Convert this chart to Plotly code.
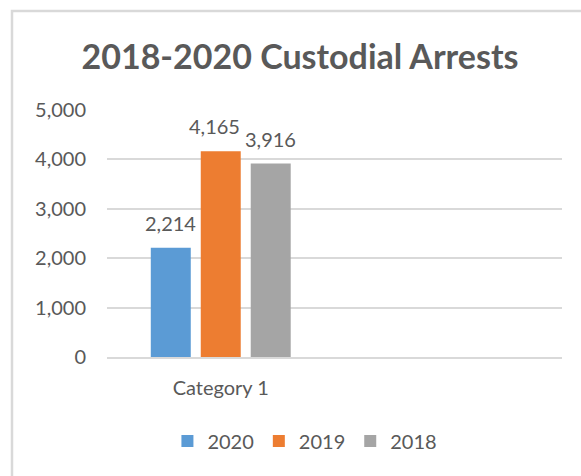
import plotly.graph_objects as go

categories = ["Category 1", " "]
series_names = ["2020", "2019", "2018"]
values_2020 = [2214, None]
values_2019 = [4165, None]
values_2018 = [3916, None]
series_values = [values_2020, values_2019, values_2018]
colors = ["#5B9BD5", "#ED7D31", "#A5A5A5"]
y_ticks = [0, 1000, 2000, 3000, 4000, 5000]
y_ticklabels = ["0", "1,000", "2,000", "3,000", "4,000", "5,000"]

FONT = "Lato"
TXT = "#595959"
FS = 20

fig = go.Figure()
for name, vals, col in zip(series_names, series_values, colors):
    fig.add_trace(go.Bar(x=categories, y=vals, name=name, marker_color=col,
                         marker_line_width=0))

# data labels
offsets = [-50, 0, 50]
for vals, off, adj in zip(series_values, offsets, [0, -6, 0]):
    for c, v in zip(categories, vals):
        if v is None:
            continue
        fig.add_annotation(x=c, y=v, text=f"{v:,}", showarrow=False,
                           xshift=off + adj, yshift=25, yanchor="middle",
                           font=dict(family=FONT, size=FS, color=TXT))

W, H = 581, 476
L, R, T, B = 107, 19, 110, 119
pw, ph = W - L - R, H - T - B

def px(x):
    return (x - L) / pw

def py(y):
    return (H - B - y) / ph

fig.add_shape(type="path", xref="paper", yref="paper",
              path=f"M {px(12)} {py(480)} L {px(12)} {py(11)} L {px(590)} {py(11)}",
              line=dict(color="#D9D9D9", width=2.5))

fig.update_layout(
    width=W, height=H,
    margin=dict(l=L, r=R, t=T, b=B, pad=0),
    paper_bgcolor="white", plot_bgcolor="white",
    barmode="group", bargap=0.341, bargroupgap=0.2,
    title=dict(text="<b>2018-2020 Custodial Arrests</b>", x=300 / W, xanchor="center",
               y=1 - 57 / H, yanchor="middle", yref="container",
               font=dict(family=FONT, size=34, color=TXT)),
    font=dict(family=FONT, size=FS, color=TXT),
    showlegend=True,
    legend=dict(orientation="h", x=0.435, xanchor="center", y=py(441), yanchor="middle",
                font=dict(family=FONT, size=FS, color=TXT), itemwidth=30,
                traceorder="normal", itemclick=False),
    xaxis=dict(type="category", categoryorder="array", categoryarray=categories,
               showgrid=False, showline=True, linecolor="#D9D9D9", linewidth=1.5,
               ticks="", tickfont=dict(family=FONT, size=FS, color=TXT),
               ticklabelstandoff=12, fixedrange=True),
    yaxis=dict(range=[0, 5000], tickvals=y_ticks, ticktext=y_ticklabels,
               showgrid=True, gridcolor="#D9D9D9", gridwidth=1.5, zeroline=False,
               showline=False, ticks="", tickfont=dict(family=FONT, size=FS, color=TXT),
               ticklabelstandoff=20, fixedrange=True),
)

fig.write_html("out.html")
